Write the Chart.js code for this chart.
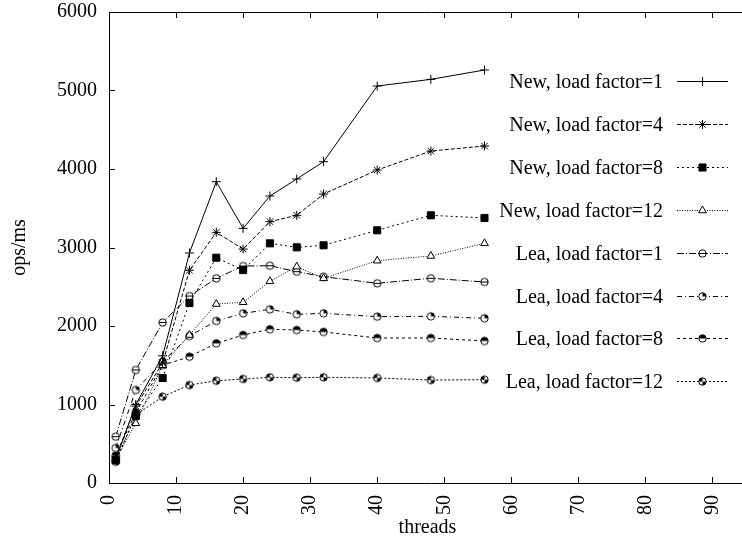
<!DOCTYPE html>
<html><head><meta charset="utf-8">
<script src="https://cdn.jsdelivr.net/npm/chart.js@4/dist/chart.umd.min.js"></script>
<style>
html,body{margin:0;padding:0;background:#fff;overflow:hidden;}
#wrap{width:742px;height:541px;overflow:hidden;position:relative;background:#fff;}
#c{position:absolute;left:0;top:0;}
</style></head><body>
<div id="wrap"><canvas id="c" width="752" height="541" style="width:752px;height:541px"></canvas></div>
<script>
// ---- data ----
const threads = [1, 4, 8, 12, 16, 20, 24, 28, 32, 40, 48, 56];
const newLf1  = [300, 1000, 1620, 2930, 3838, 3244, 3656, 3873, 4093, 5057, 5142, 5261];
const newLf4  = [330, 980, 1530, 2710, 3193, 2980, 3329, 3410, 3681, 3987, 4229, 4293];
const newLf8  = [290, 853, 1338, 2293, 2870, 2713, 3053, 3002, 3028, 3219, 3410, 3376];
const newLf12 = [300, 760, 1500, 1885, 2280, 2302, 2569, 2756, 2607, 2832, 2892, 3053];
const leaLf1  = [590, 1440, 2045, 2382, 2607, 2764, 2768, 2692, 2628, 2544, 2608, 2561];
const leaLf4  = [446, 1185, 1545, 1873, 2064, 2161, 2212, 2149, 2161, 2119, 2123, 2098];
const leaLf8  = [350, 900, 1500, 1609, 1779, 1885, 1958, 1949, 1924, 1847, 1847, 1809];
const leaLf12 = [270, 866, 1100, 1248, 1303, 1325, 1346, 1342, 1346, 1338, 1312, 1316];
const seriesLabels = ['New, load factor=1','New, load factor=4','New, load factor=8','New, load factor=12',
                      'Lea, load factor=1','Lea, load factor=4','Lea, load factor=8','Lea, load factor=12'];
const xTicks = [0, 10, 20, 30, 40, 50, 60, 70, 80, 90];
const yTicks = [0, 1000, 2000, 3000, 4000, 5000, 6000];
const xTitle = 'threads';
const yTitle = 'ops/ms';

// ---- custom circle glyphs ----
function glyph(kind){
  const c = document.createElement('canvas'); c.width = 11; c.height = 11;
  const g = c.getContext('2d'); const cx = 5.5, cy = 5.5, r = 3.7;
  g.fillStyle = '#fff'; g.beginPath(); g.arc(cx, cy, r, 0, 2*Math.PI); g.fill();
  g.fillStyle = '#000';
  const wedge = (a0, a1) => { g.beginPath(); g.moveTo(cx, cy); g.arc(cx, cy, r, a0, a1); g.closePath(); g.fill(); };
  if (kind === 'bar') { g.fillRect(cx - r, cy - 0.5, 2*r, 1); }
  if (kind === 'q1') { wedge(-Math.PI/2, 0); }
  if (kind === 'half') { wedge(Math.PI, 2*Math.PI); }
  if (kind === 'q2') { wedge(0, Math.PI/2); wedge(Math.PI, 1.5*Math.PI); }
  g.strokeStyle = '#000'; g.lineWidth = 1; g.beginPath(); g.arc(cx, cy, r, 0, 2*Math.PI); g.stroke();
  return c;
}

const seriesValues = [newLf1, newLf4, newLf8, newLf12, leaLf1, leaLf4, leaLf8, leaLf12];
const styles = [
  {dash: [], ps: 'cross', pr: 4.5, bg: '#000'},
  {dash: [4, 2], ps: 'star', pr: 4.5, bg: '#000'},
  {dash: [2, 3], ps: 'rect', pr: 5, bg: '#000'},
  {dash: [1, 1.5], ps: 'triangle', pr: 4.5, bg: '#fff'},
  {dash: [7, 2, 1, 2], ps: glyph('bar'), pr: 4, bg: '#fff'},
  {dash: [5, 3, 1, 3], ps: glyph('q1'), pr: 4, bg: '#fff'},
  {dash: [3, 3], ps: glyph('half'), pr: 4, bg: '#fff'},
  {dash: [2, 2], ps: glyph('q2'), pr: 4, bg: '#fff'}
];

const datasets = seriesValues.map((vals, i) => ({
  label: seriesLabels[i],
  data: threads.map((t, j) => ({x: t, y: vals[j]})),
  borderColor: '#000', borderWidth: 1, borderDash: styles[i].dash,
  pointStyle: styles[i].ps, pointRadius: styles[i].pr,
  pointBorderColor: '#000', pointBackgroundColor: styles[i].bg, pointBorderWidth: 1,
  tension: 0, fill: false
}));

const FONT = {family: '"Liberation Serif", "Times New Roman", serif', size: 20};

const decor = {
  id: 'decor',
  beforeDatasetsDraw(chart) {
    const {ctx, chartArea: a, scales: {x, y}} = chart;
    ctx.save();
    ctx.strokeStyle = '#000'; ctx.lineWidth = 1; ctx.setLineDash([]);
    ctx.beginPath();
    ctx.rect(a.left + 0.5, a.top + 0.5, a.right - a.left + 20, a.bottom - a.top);
    ctx.stroke();
    ctx.beginPath();
    xTicks.forEach(v => {
      const px = Math.round(x.getPixelForValue(v)) + 0.5;
      ctx.moveTo(px, a.bottom); ctx.lineTo(px, a.bottom - 6);
      ctx.moveTo(px, a.top); ctx.lineTo(px, a.top + 6);
    });
    yTicks.forEach(v => {
      const py = Math.round(y.getPixelForValue(v)) + 0.5;
      ctx.moveTo(a.left, py); ctx.lineTo(a.left + 6, py);
    });
    ctx.stroke();
    ctx.restore();
  },
  afterDraw(chart) {
    const ctx = chart.ctx;
    chart.data.datasets.forEach((ds, i) => {
      const yy = Math.round(81 + i * 42.9) + 0.5;
      ctx.save();
      ctx.font = '20px "Liberation Serif", "Times New Roman", serif';
      ctx.fillStyle = '#000'; ctx.textAlign = 'right'; ctx.textBaseline = 'alphabetic';
      ctx.fillText(ds.label, 663, yy + 6.5);
      ctx.strokeStyle = '#000'; ctx.lineWidth = 1; ctx.setLineDash(ds.borderDash);
      ctx.beginPath(); ctx.moveTo(677, yy); ctx.lineTo(728, yy); ctx.stroke();
      ctx.setLineDash([]);
      ctx.fillStyle = ds.pointBackgroundColor; ctx.strokeStyle = '#000'; ctx.lineWidth = 1;
      Chart.helpers.drawPoint(ctx, {pointStyle: ds.pointStyle, radius: ds.pointRadius, rotation: 0, borderWidth: 1}, 702.5, yy);
      ctx.restore();
    });
  }
};

new Chart(document.getElementById('c'), {
  type: 'line',
  data: {datasets},
  options: {
    responsive: false, animation: false, devicePixelRatio: 1,
    layout: {padding: {top: 12, left: 0, right: 0, bottom: 0}},
    plugins: {legend: {display: false}, tooltip: {enabled: false}},
    scales: {
      x: {
        type: 'linear', min: 0, max: 95,
        afterBuildTicks: s => { s.ticks = xTicks.map(v => ({value: v})); },
        afterFit: s => { s.height = 58; s.paddingLeft = 0; s.paddingRight = 0; },
        grid: {display: false, drawTicks: false}, border: {display: false},
        ticks: {minRotation: 90, maxRotation: 90, autoSkip: false, padding: 12, color: '#000', font: FONT,
                callback: v => String(v)},
        title: {display: true, text: xTitle, color: '#000', font: FONT, padding: {top: 0, bottom: 1}}
      },
      y: {
        type: 'linear', min: 0, max: 6000,
        afterBuildTicks: s => { s.ticks = yTicks.map(v => ({value: v})); },
        afterFit: s => { s.width = 109; s.paddingTop = 0; s.paddingBottom = 0; },
        grid: {display: false, drawTicks: false}, border: {display: false},
        ticks: {padding: 12, color: '#000', font: FONT, callback: v => String(v)},
        title: {display: true, text: yTitle, color: '#000', font: FONT, padding: {top: 8, bottom: 0}}
      }
    }
  },
  plugins: [decor]
});
</script>
</body></html>
